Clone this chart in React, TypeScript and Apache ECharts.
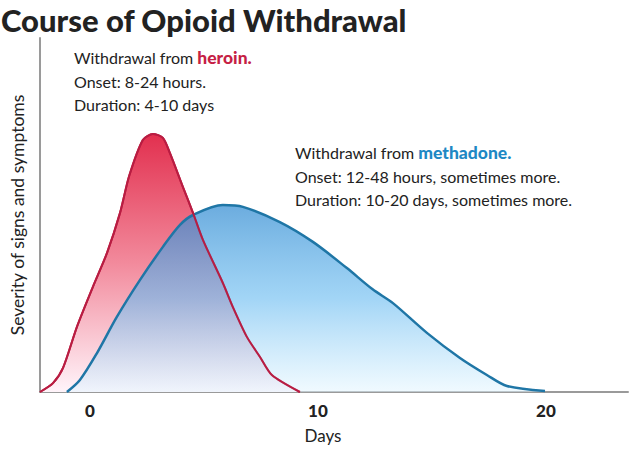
import React, { useEffect, useRef } from "react";
import * as echarts from "echarts";

const titleText = "Course of Opioid Withdrawal";
const xAxisName = "Days";
const yAxisName = "Severity of signs and symptoms";
const xTickValues = [0, 10, 20];

const heroinDays = [-2.19, -1.62, -1.18, -0.57, 0.13, 0.75, 1.32, 1.72, 2.32, 2.76, 3.2, 3.51, 4.08, 4.52, 4.96, 5.83, 6.27, 6.89, 7.46, 7.98, 9.21];
const heroinSeverity = [0, 2.5, 6.8, 18.4, 29.7, 39.3, 50.6, 61, 71.2, 72.9, 71.8, 67.5, 57.9, 50.6, 42.9, 30.8, 24, 15.5, 9.9, 4.8, 0];

const methadoneDays = [-1.01, -0.44, 0.31, 1.18, 2.19, 3.2, 3.95, 4.52, 5.83, 6.71, 8.33, 9.78, 11.27, 12.4, 13.29, 14.78, 16.23, 17.41, 18.29, 19.96];
const methadoneSeverity = [0, 3.4, 11, 21.2, 31.6, 41, 47.2, 50, 52.8, 52.3, 48, 42.4, 35, 29, 25.1, 16.7, 9.6, 4.8, 1.7, 0.3];

const heroinLines = ["Withdrawal from ", "heroin.", "Onset: 8-24 hours.", "Duration: 4-10 days"];
const methadoneLines = ["Withdrawal from ", "methadone.", "Onset: 12-48 hours, sometimes more.", "Duration: 10-20 days, sometimes more."];

export default function App() {
  const ref = useRef<HTMLDivElement>(null);
  useEffect(() => {
    if (!ref.current) return;
    const chart = echarts.init(ref.current, null, { renderer: "svg" });
    const font = "Lato, 'Noto Sans', sans-serif";
    const heroinData = heroinDays.map((d, i) => [d, heroinSeverity[i]]);
    const methadoneData = methadoneDays.map((d, i) => [d, methadoneSeverity[i]]);
    const rich = (accent: string) => ({
      a: { fontFamily: font, fontSize: 16, fill: "#222222", lineHeight: 23.5 },
      b: { fontFamily: font, fontSize: 17.5, fontWeight: 900, fill: accent, lineHeight: 23.5 },
    });
    chart.setOption({
      animation: false,
      backgroundColor: "#ffffff",
      textStyle: { fontFamily: font },
      title: {
        text: titleText,
        left: 1,
        top: 3,
        padding: 0,
        textStyle: { fontFamily: font, fontWeight: 900, fontSize: 31, color: "#222222", lineHeight: 34 },
      },
      grid: { left: 40, right: 5, top: 38, bottom: 57 },
      xAxis: {
        type: "value",
        min: -2.19,
        max: 23.6,
        name: xAxisName,
        nameLocation: "middle",
        nameGap: 35,
        nameTextStyle: { fontFamily: font, fontSize: 17, color: "#222", padding: [0, 22, 0, 0] },
        axisLine: { show: true, onZero: false, lineStyle: { color: "#9a9a9a", width: 2 } },
        axisTick: { show: false },
        splitLine: { show: false },
        axisLabel: {
          customValues: xTickValues,
          fontFamily: font,
          fontWeight: 900,
          fontSize: 17,
          color: "#222",
          margin: 10,
        },
      },
      yAxis: {
        type: "value",
        min: 0,
        max: 100,
        name: yAxisName,
        nameLocation: "middle",
        nameGap: 14,
        nameTextStyle: { fontFamily: font, fontSize: 17.5, color: "#222" },
        axisLine: { show: true, onZero: false, lineStyle: { color: "#9a9a9a", width: 2 } },
        axisTick: { show: false },
        axisLabel: { show: false },
        splitLine: { show: false },
      },
      series: [
        {
          type: "line",
          name: "Heroin",
          data: heroinData,
          smooth: 0.25,
          symbol: "none",
          lineStyle: { color: "#c61f45", width: 2 },
          areaStyle: {
            opacity: 1,
            color: new echarts.graphic.LinearGradient(0, 0, 0, 1, [
              { offset: 0, color: "#e2304f" },
              { offset: 0.5, color: "#f28a9c" },
              { offset: 1, color: "#fff4fa" },
            ]),
          },
          z: 2,
        },
        {
          type: "line",
          name: "Methadone",
          data: methadoneData,
          smooth: 0.3,
          symbol: "none",
          lineStyle: { color: "#1f76a6", width: 2.5 },
          areaStyle: {
            opacity: 1,
            color: new echarts.graphic.LinearGradient(0, 0, 0, 1, [
              { offset: 0, color: "rgba(50,140,210,0.72)" },
              { offset: 0.5, color: "rgba(100,185,240,0.6)" },
              { offset: 1, color: "rgba(225,245,255,0.5)" },
            ]),
          },
          z: 3,
        },
        {
          type: "line",
          name: "Heroin outline",
          data: heroinData,
          smooth: 0.25,
          symbol: "none",
          silent: true,
          lineStyle: { color: "#b81d42", width: 2 },
          z: 4,
        },
      ],
      graphic: [
        {
          type: "text",
          x: 74,
          y: 46,
          style: {
            text: `{a|${heroinLines[0]}}{b|${heroinLines[1]}}\n{a|${heroinLines[2]}}\n{a|${heroinLines[3]}}`,
            verticalAlign: "top",
            rich: rich("#c61f45"),
          },
          z: 10,
        },
        {
          type: "text",
          x: 295,
          y: 141,
          style: {
            text: `{a|${methadoneLines[0]}}{b|${methadoneLines[1]}}\n{a|${methadoneLines[2]}}\n{a|${methadoneLines[3]}}`,
            verticalAlign: "top",
            rich: rich("#1e88c4"),
          },
          z: 10,
        },
      ],
    });
    return () => chart.dispose();
  }, []);
  return <div ref={ref} style={{ width: 633, height: 449, position: "absolute", left: 0, top: 0 }} />;
}
